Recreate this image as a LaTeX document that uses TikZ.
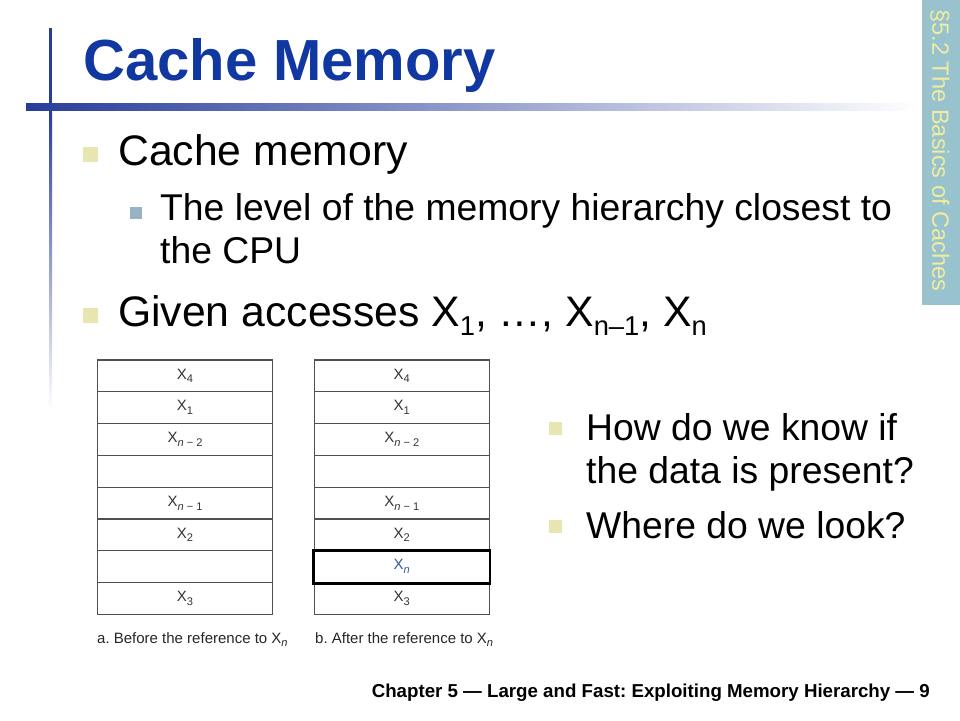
\documentclass[tikz,border=0pt]{standalone}
\usepackage{fontspec}
\usepackage{graphicx}
\setmainfont{Liberation Sans}
\frenchspacing
\usetikzlibrary{shadings}
\definecolor{titleblue}{RGB}{16,56,160}
\definecolor{barblue}{RGB}{40,60,155}
\definecolor{tabblue}{RGB}{152,194,206}
\definecolor{tabyellow}{RGB}{240,236,160}
\definecolor{bulyellow}{RGB}{232,230,176}
\definecolor{bulgrey}{RGB}{150,178,196}
\definecolor{cellline}{RGB}{80,80,80}
\definecolor{xnblue}{RGB}{50,90,160}
\newcommand{\lsub}[1]{\raisebox{-0.22em}{\scalebox{0.64}{#1}}}
\newcommand{\csub}[1]{\raisebox{-0.25em}{\scalebox{0.74}{#1}}}

\begin{document}
\begin{tikzpicture}[x=1pt,y=-1pt,
  title/.style={anchor=base west,inner sep=0pt,text=titleblue,
    font=\fontsize{58}{58}\bfseries\selectfont},
  lvlone/.style={anchor=base west,inner sep=0pt,font=\fontsize{42.7}{51}\selectfont},
  lvltwo/.style={anchor=base west,inner sep=0pt,font=\fontsize{37.3}{43}\selectfont},
  bulone/.style={fill=bulyellow,minimum size=15pt,inner sep=0pt},
  bulsmall/.style={fill=bulyellow,minimum size=13pt,inner sep=0pt},
  bultwo/.style={fill=bulgrey,minimum size=12pt,inner sep=0pt},
  cell/.style={draw=cellline,line width=1.2pt,minimum width=175pt,
    minimum height=31.8pt,inner sep=0pt,text=black!80,
    font=\fontsize{15}{15}\selectfont},
  capt/.style={anchor=base west,inner sep=0pt,text=black!85,
    font=\fontsize{15}{15}\selectfont}]
\useasboundingbox (0,0) rectangle (960,720);

% header bars and side tab
\fill[barblue] (49,28) rectangle (52,110);
\shade[top color=barblue,bottom color=white] (49,110) rectangle (52,410);
\shade[left color=barblue,right color=white] (26,103) rectangle (920,110);
\fill[tabblue] (922,0) rectangle (960,305);
\node[rotate=-90,text=tabyellow,inner sep=0pt,
  font=\fontsize{23.6}{24}\selectfont] (tab) at (940,150.5)
  {§5.2 The Basics of Caches};

\node[title] (title) at (83,80) {Cache Memory};

% bullets
\node[bulone] (b1) at (90.5,154.5) {};
\node[lvlone] (cm) at (118,165) {Cache memory};
\node[bultwo] (b2) at (136,212.5) {};
\node[lvltwo] (lev) at (160,220) {The level of the memory hierarchy closest to};
\node[lvltwo] (cpu) at (160,263) {the CPU};
\node[bulone] (b3) at (90.5,315.5) {};
\node[lvlone] (acc) at (118,326)
  {Given accesses X\lsub{1}, …, X\lsub{n–1}, X\lsub{n}};

\node[bulsmall] (b4) at (555,428) {};
\node[lvltwo] (know) at (586,440) {How do we know if};
\node[lvltwo] (pres) at (586,483) {the data is present?};
\node[bulsmall] (b5) at (555,526) {};
\node[lvltwo] (look) at (586,538) {Where do we look?};

% cache before / after
\foreach \i/\t in {1/X\csub{4},2/X\csub{1},3/X\csub{\textit{n} − 2},4/{},
    5/X\csub{\textit{n} − 1},6/X\csub{2},7/{},8/X\csub{3}}
  \node[cell] (a\i) at (185,{360+31.8*(\i-0.5)}) {\t};
\foreach \i/\t in {1/X\csub{4},2/X\csub{1},3/X\csub{\textit{n} − 2},4/{},
    5/X\csub{\textit{n} − 1},6/X\csub{2},
    7/{\textcolor{xnblue}{X\csub{\textit{n}}}},8/X\csub{3}}
  \node[cell] (b\i) at (401.8,{360+31.8*(\i-0.5)}) {\t};
\draw[line width=2.6pt] (b7.north west) rectangle (b7.south east);

\node[capt] (capa) at (97,643) {a. Before the reference to X\csub{\textit{n}}};
\node[capt] (capb) at (315,643) {b. After the reference to X\csub{\textit{n}}};

\node[anchor=base east,inner sep=0pt,font=\fontsize{18.7}{19}\bfseries\selectfont]
  (foot) at (930,697) {Chapter 5 — Large and Fast: Exploiting Memory Hierarchy — 9};
\end{tikzpicture}
\end{document}
